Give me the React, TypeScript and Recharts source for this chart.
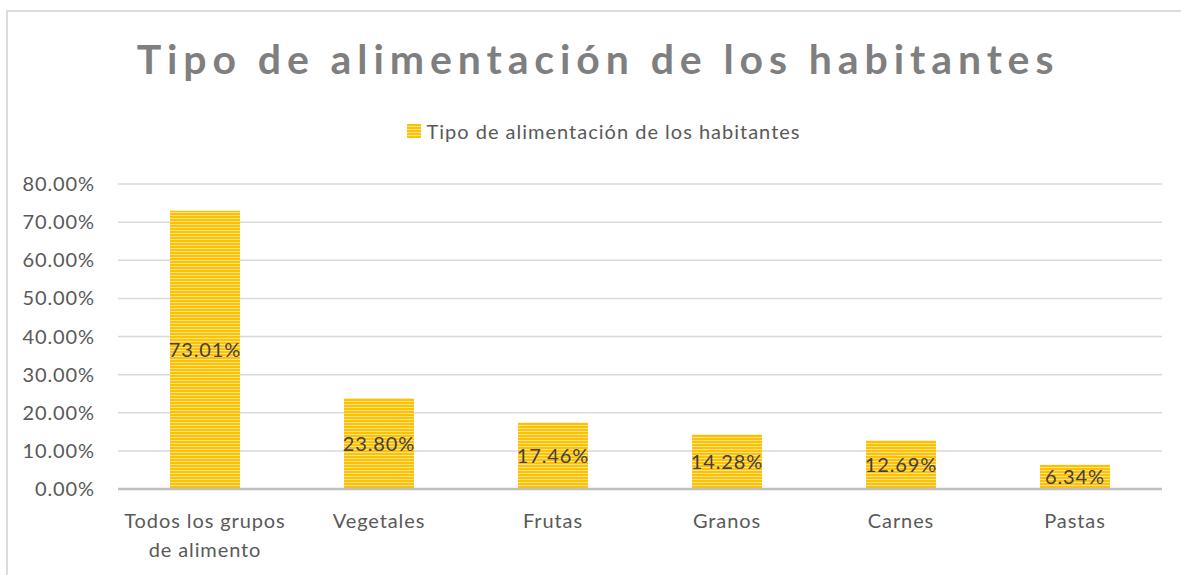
import React from "react";
import { BarChart, Bar, XAxis, YAxis, CartesianGrid, Legend, LabelList } from "recharts";

const categories = ["Todos los grupos de alimento", "Vegetales", "Frutas", "Granos", "Carnes", "Pastas"];
const values = [73.01, 23.8, 17.46, 14.28, 12.69, 6.34];
const yTicks = [0, 10, 20, 30, 40, 50, 60, 70, 80];
const seriesName = "Tipo de alimentación de los habitantes";
const titleText = "Tipo de alimentación de los habitantes";

const data = categories.map((c, i) => ({ name: c, value: values[i] }));

const FONT = "Lato, 'Open Sans', sans-serif";

const wrapLabel = (s: string): string[] => {
  if (s === "Todos los grupos de alimento") return ["Todos los grupos", "de alimento"];
  return [s];
};

const XTick = (props: any) => {
  const { x, y, payload } = props;
  const lines = wrapLabel(payload.value);
  return (
    <text x={x} y={y} textAnchor="middle" fill="#595959" fontSize={20} fontFamily={FONT} letterSpacing={0.9}>
      {lines.map((l, i) => (
        <tspan key={i} x={x} dy={i === 0 ? "0.68em" : 29.5}>
          {l}
        </tspan>
      ))}
    </text>
  );
};

const LegendContent = () => (
  <div
    style={{
      display: "flex",
      justifyContent: "center",
      alignItems: "center",
      fontFamily: FONT,
      fontSize: 20,
      letterSpacing: 1.0,
      color: "#595959",
      height: 24,
      paddingLeft: 26,
    }}
  >
    <svg width={14} height={14} style={{ marginRight: 6 }}>
      <rect x={0} y={0} width={14} height={14} fill="url(#stripes)" />
    </svg>
    <span>{seriesName}</span>
  </div>
);

export default function App() {
  return (
    <div style={{ position: "absolute", left: 0, top: 0, width: 1181, height: 575, background: "#fff", overflow: "hidden" }}>
      <svg width={0} height={0} style={{ position: "absolute" }}>
        <defs>
          <pattern id="stripes" patternUnits="userSpaceOnUse" width={6} height={3}>
            <rect x={0} y={0} width={6} height={3} fill="#FFC000" />
            <rect x={0} y={2} width={6} height={1} fill="#FFE38A" />
          </pattern>
        </defs>
      </svg>
      <div
        style={{
          position: "absolute",
          left: 6,
          top: 10,
          width: 1200,
          height: 600,
          border: "2px solid #dcdcdc",
          boxSizing: "border-box",
        }}
      />
      <div
        style={{
          position: "absolute",
          left: 0,
          top: 34,
          width: 1196,
          textAlign: "center",
          fontFamily: FONT,
          fontWeight: 700,
          fontSize: 41,
          letterSpacing: 5.9,
          color: "#7f7f7f",
          whiteSpace: "nowrap",
        }}
      >
        {titleText}
      </div>
      <div style={{ position: "absolute", left: 0, top: 0 }}>
        <BarChart width={1181} height={575} data={data} margin={{ top: 160, right: 19, bottom: 0, left: 18 }}>
          <CartesianGrid vertical={false} stroke="#d9d9d9" strokeWidth={1.5} />
          <XAxis
            dataKey="name"
            tick={<XTick />}
            tickLine={false}
            tickSize={0}
            tickMargin={25}
            axisLine={{ stroke: "#bfbfbf", strokeWidth: 2.5 }}
            interval={0}
            height={86}
          />
          <YAxis
            width={100}
            domain={[0, 80]}
            ticks={yTicks}
            interval={0}
            tickFormatter={(v: number) => v.toFixed(2) + "%"}
            tickLine={false}
            axisLine={false}
            tickSize={0}
            tickMargin={23}
            tick={{ fill: "#595959", fontSize: 20, fontFamily: FONT, letterSpacing: 0.9 }}
          />
          <Legend
            verticalAlign="top"
            content={<LegendContent />}
            wrapperStyle={{ position: "absolute", top: 119, left: 0, width: 1181, height: 24 }}
          />
          <Bar dataKey="value" name={seriesName} fill="url(#stripes)" barSize={70} isAnimationActive={false}>
            <LabelList
              dataKey="value"
              position="center"
              formatter={(v: number) => v.toFixed(2) + "%"}
              fill="#404040"
              fontSize={20}
              fontFamily={FONT}
              letterSpacing={0.9}
            />
          </Bar>
        </BarChart>
      </div>
    </div>
  );
}
